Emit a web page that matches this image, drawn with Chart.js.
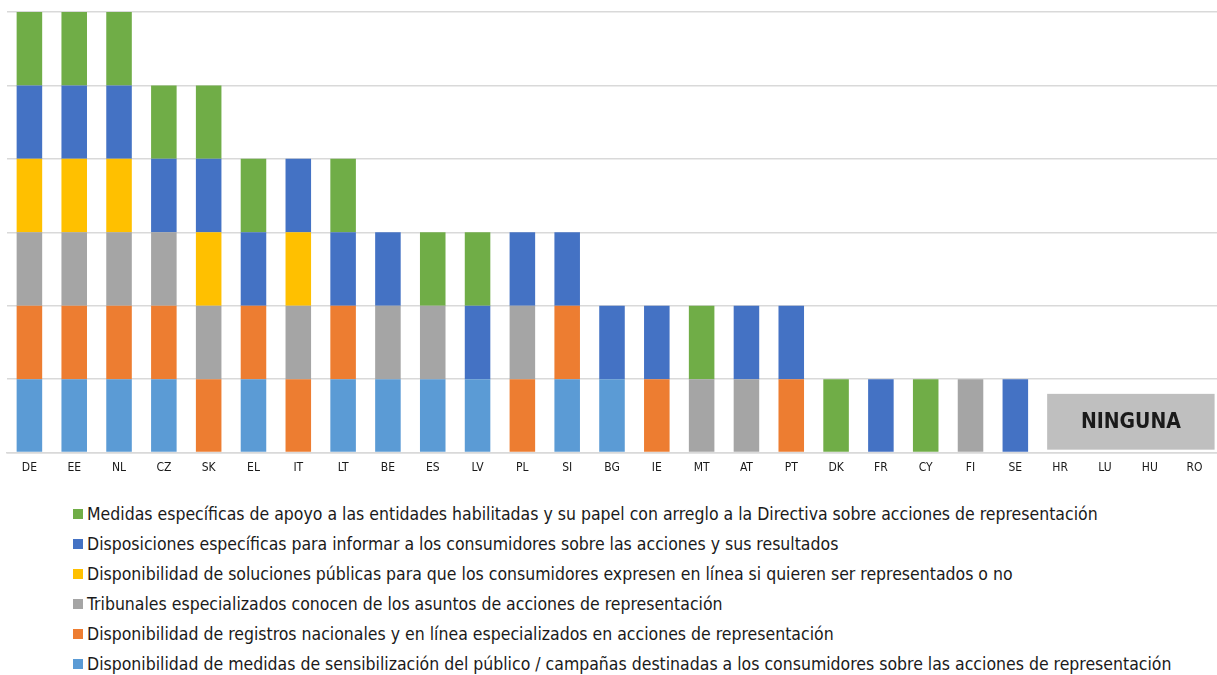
<!DOCTYPE html>
<html>
<head>
<meta charset="utf-8">
<script src="https://cdn.jsdelivr.net/npm/chart.js@4/dist/chart.umd.min.js"></script>
<style>
  body { margin: 0; background: #fff; }
  #wrap { position: relative; width: 1217px; height: 499px; }
  #legend ul { list-style: none; margin: 0; padding: 0 0 0 73px; }
  #legend li {
    display: flex; align-items: center; height: 30px;
    font-family: "DejaVu Sans Condensed", sans-serif;
    font-size: 17.5px; color: #1a1a1a; white-space: nowrap;
  }
  #legend .box { width: 10px; height: 10px; margin-right: 4px; flex: none; }
</style>
</head>
<body>
<div id="wrap"><canvas id="chart"></canvas></div>
<div id="legend"></div>
<script>
const countries = ['DE', 'EE', 'NL', 'CZ', 'SK', 'EL', 'IT', 'LT', 'BE', 'ES', 'LV', 'PL', 'SI',
    'BG', 'IE', 'MT', 'AT', 'PT', 'DK', 'FR', 'CY', 'FI', 'SE', 'HR', 'LU', 'HU', 'RO'];

const campaigns   = [1, 1, 1, 1, 0, 1, 0, 1, 1, 1, 1, 0, 1, 1, 0, 0, 0, 0, 0, 0, 0, 0, 0, 0, 0, 0, 0];
const registries  = [1, 1, 1, 1, 1, 1, 1, 1, 0, 0, 0, 1, 1, 0, 1, 0, 0, 1, 0, 0, 0, 0, 0, 0, 0, 0, 0];
const tribunals   = [1, 1, 1, 1, 1, 0, 1, 0, 1, 1, 0, 1, 0, 0, 0, 1, 1, 0, 0, 0, 0, 1, 0, 0, 0, 0, 0];
const optOnline   = [1, 1, 1, 0, 1, 0, 1, 0, 0, 0, 0, 0, 0, 0, 0, 0, 0, 0, 0, 0, 0, 0, 0, 0, 0, 0, 0];
const information = [1, 1, 1, 1, 1, 1, 1, 1, 1, 0, 1, 1, 1, 1, 1, 0, 1, 1, 0, 1, 0, 0, 1, 0, 0, 0, 0];
const support     = [1, 1, 1, 1, 1, 1, 0, 1, 0, 1, 1, 0, 0, 0, 0, 1, 0, 0, 1, 0, 1, 0, 0, 0, 0, 0, 0];

const labelCampaigns = 'Disponibilidad de medidas de sensibilización del público / campañas destinadas a los consumidores sobre las acciones de representación';
const labelRegistries = 'Disponibilidad de registros nacionales y en línea especializados en acciones de representación';
const labelTribunals = 'Tribunales especializados conocen de los asuntos de acciones de representación';
const labelOptOnline = 'Disponibilidad de soluciones públicas para que los consumidores expresen en línea si quieren ser representados o no';
const labelInformation = 'Disposiciones específicas para informar a los consumidores sobre las acciones y sus resultados';
const labelSupport = 'Medidas específicas de apoyo a las entidades habilitadas y su papel con arreglo a la Directiva sobre acciones de representación';

const noneFrom = 'HR';
const noneTo = 'RO';
const noneText = 'NINGUNA';

const fontFamily = '"DejaVu Sans Condensed", sans-serif';

// gray "NINGUNA" box over the countries without any measure
const noneBox = {
    id: 'noneBox',
    afterDatasetsDraw(chart) {
        const { ctx, scales: { x, y } } = chart;
        const left = x.getPixelForValue(countries.indexOf(noneFrom)) - 13;
        const right = x.getPixelForValue(countries.indexOf(noneTo)) + 20;
        const top = y.getPixelForValue(0.8);
        const bottom = y.getPixelForValue(0.04);
        ctx.save();
        ctx.fillStyle = '#bfbfbf';
        ctx.fillRect(left, top, right - left, bottom - top);
        ctx.fillStyle = '#1a1a1a';
        ctx.font = 'bold 21px ' + fontFamily;
        ctx.textAlign = 'center';
        ctx.textBaseline = 'middle';
        ctx.fillText(noneText, (left + right) / 2, (top + bottom) / 2 + 1);
        ctx.restore();
    }
};

// legend as an html list, newest series on top
const htmlLegend = {
    id: 'htmlLegend',
    afterUpdate(chart) {
        const ul = document.createElement('ul');
        const items = chart.options.plugins.legend.labels.generateLabels(chart).reverse();
        items.forEach(item => {
            const li = document.createElement('li');
            const box = document.createElement('span');
            box.className = 'box';
            box.style.background = item.fillStyle;
            const text = document.createElement('span');
            text.textContent = item.text;
            li.appendChild(box);
            li.appendChild(text);
            ul.appendChild(li);
        });
        const holder = document.getElementById('legend');
        holder.innerHTML = '';
        holder.appendChild(ul);
    }
};

const ctx = document.getElementById('chart').getContext('2d');
new Chart(ctx, {
    type: 'bar',
    data: {
        labels: countries,
        datasets: [
            { label: labelCampaigns, data: campaigns, backgroundColor: '#5b9bd5' },
            { label: labelRegistries, data: registries, backgroundColor: '#ed7d31' },
            { label: labelTribunals, data: tribunals, backgroundColor: '#a5a5a5' },
            { label: labelOptOnline, data: optOnline, backgroundColor: '#ffc000' },
            { label: labelInformation, data: information, backgroundColor: '#4472c4' },
            { label: labelSupport, data: support, backgroundColor: '#70ad47' }
        ]
    },
    options: {
        responsive: true,
        maintainAspectRatio: false,
        animation: false,
        datasets: {
            bar: { barPercentage: 0.57, categoryPercentage: 1 }
        },
        layout: {
            padding: { top: 12, left: 7, right: 0, bottom: 24 }
        },
        plugins: {
            legend: { display: false },
            tooltip: { enabled: false }
        },
        scales: {
            x: {
                stacked: true,
                grid: { display: false },
                border: { color: '#d9d9d9', width: 1.5 },
                ticks: {
                    color: '#1a1a1a',
                    padding: 0,
                    font: { family: fontFamily, size: 12 }
                }
            },
            y: {
                stacked: true,
                min: 0,
                max: 6,
                ticks: { display: false, stepSize: 1 },
                border: { display: false },
                grid: { color: '#d9d9d9', lineWidth: 1.5, drawTicks: false }
            }
        }
    },
    plugins: [noneBox, htmlLegend]
});
</script>
</body>
</html>
